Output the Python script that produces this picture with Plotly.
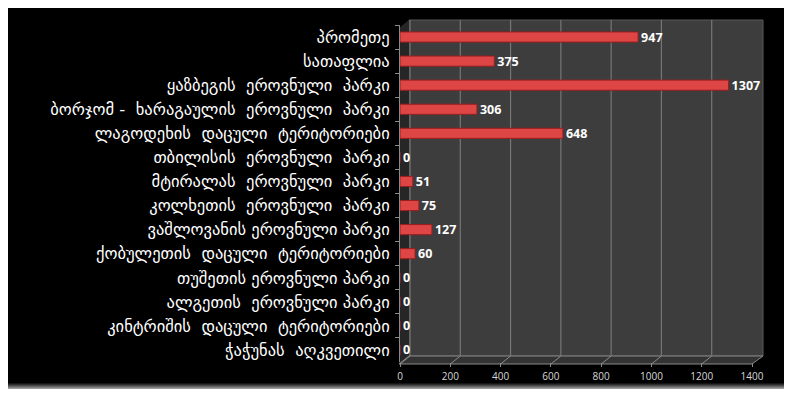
import plotly.graph_objects as go

# data
categories = [
    "პრომეთე",
    "სათაფლია",
    "ყაზბეგის  ეროვნული  პარკი",
    "ბორჯომ -  ხარაგაულის  ეროვნული  პარკი",
    "ლაგოდეხის  დაცული  ტერიტორიები",
    "თბილისის  ეროვნული  პარკი",
    "მტირალას  ეროვნული  პარკი",
    "კოლხეთის  ეროვნული  პარკი",
    "ვაშლოვანის ეროვნული პარკი",
    "ქობულეთის  დაცული  ტერიტორიები",
    "თუშეთის ეროვნული პარკი",
    "ალგეთის  ეროვნული პარკი",
    "კინტრიშის  დაცული  ტერიტორიები",
    "ჭაჭუნას  აღკვეთილი",
]
values = [947, 375, 1307, 306, 648, 0, 51, 75, 127, 60, 0, 0, 0, 0]
x_ticks = [0, 200, 400, 600, 800, 1000, 1200, 1400]

# the page has an 8px body margin (shows as the white frame top/left)
OFF = 8
W, H = 792 - OFF, 397 - 2 * OFF
ML, MR, MT, MB = 392, 40, 17, 27
PW, PH = W - ML - MR, H - MT - MB


def px(x):
    # page pixel -> paper x
    return (x - OFF - ML) / PW


def py(y):
    # page pixel -> paper y
    return (H - MB - (y - OFF)) / PH


fig = go.Figure(go.Bar(
    x=values,
    y=categories,
    orientation="h",
    width=0.42,
    marker=dict(color="#de4646", line=dict(color="#9a1e1e", width=1)),
    text=values,
    textposition="outside",
    constraintext="none",
    textfont=dict(color="white", size=12.5, family="Open Sans", weight="bold"),
    cliponaxis=False,
))

shapes = []
# back wall
shapes.append(dict(type="rect", xref="paper", yref="paper", layer="below",
                   x0=px(409), x1=px(763), y0=py(356), y1=py(20),
                   fillcolor="#3d3d3d", line=dict(color="#5a5a5a", width=1)))
# left wall
shapes.append(dict(type="path", xref="paper", yref="paper", layer="below",
                   path=f"M {px(399)},{py(364)} L {px(399)},{py(28)} L {px(409)},{py(20)} "
                        f"L {px(409)},{py(356)} Z",
                   fillcolor="#262626", line=dict(width=0)))
# floor
shapes.append(dict(type="path", xref="paper", yref="paper", layer="below",
                   path=f"M {px(399)},{py(364)} L {px(752)},{py(364)} L {px(763)},{py(356)} "
                        f"L {px(409)},{py(356)} Z",
                   fillcolor="#333333", line=dict(color="#8a8a8a", width=1)))
# grid lines on the back wall + diagonals on the floor
for v in x_ticks:
    shapes.append(dict(type="line", xref="x", yref="paper", layer="below",
                       xsizemode="pixel", xanchor=v, x0=10, x1=10,
                       y0=py(356), y1=py(20),
                       line=dict(color="#767676", width=1.2)))
    shapes.append(dict(type="line", xref="x", yref="paper", layer="below",
                       xsizemode="pixel", xanchor=v, x0=0, x1=10,
                       y0=py(364), y1=py(356),
                       line=dict(color="#8a8a8a", width=1)))
# bottom fade
fade = ["#141414", "#2c2c2c", "#474747", "#646464", "#818181", "#9c9c9c", "#b4b4b4"]
for i, c in enumerate(fade):
    shapes.append(dict(type="rect", xref="paper", yref="paper", layer="below",
                       x0=px(0), x1=px(800), y0=py(383 + i + 1), y1=py(383 + i),
                       fillcolor=c, line=dict(width=0)))

fig.update_layout(
    width=W, height=H,
    margin=dict(l=ML, r=MR, t=MT, b=MB, autoexpand=False),
    paper_bgcolor="black",
    plot_bgcolor="rgba(0,0,0,0)",
    showlegend=False,
    shapes=shapes,
    font=dict(family="DejaVu Sans", color="white"),
    xaxis=dict(range=[0, 1400], tickvals=x_ticks, showgrid=False, zeroline=False,
               showline=False, ticks="outside", ticklen=4, tickcolor="#8a8a8a",
               ticklabelstandoff=1, automargin=False,
               tickfont=dict(size=10, color="#d8d8d8", family="Open Sans")),
    yaxis=dict(autorange="reversed", showgrid=False, zeroline=False,
               showline=True, linecolor="#8a8a8a", linewidth=1,
               ticks="outside", ticklen=4, tickcolor="#8a8a8a", tickson="boundaries",
               ticklabelstandoff=6, automargin=False,
               tickfont=dict(size=16.5, color="white", family="DejaVu Sans")),
)

fig.write_html("out.html")
